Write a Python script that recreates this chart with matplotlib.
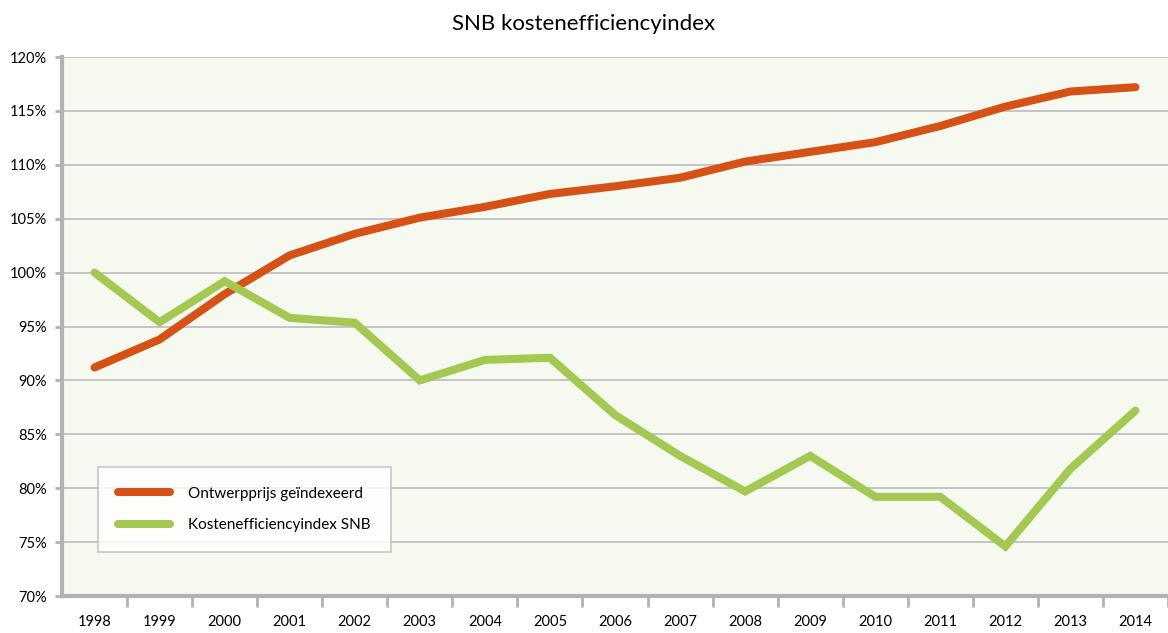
import matplotlib.pyplot as plt
from matplotlib.ticker import FixedLocator

plt.rcParams['font.family'] = ['Lato', 'DejaVu Sans']

years = [str(y) for y in range(1998, 2015)]
ontwerpprijs = [91.2, 93.8, 98.0, 101.6, 103.6, 105.1, 106.1, 107.3, 108.0,
                108.8, 110.3, 111.2, 112.1, 113.6, 115.4, 116.8, 117.2]
kostenindex = [100.0, 95.4, 99.2, 95.8, 95.35, 90.0, 91.9, 92.1, 86.8,
               83.0, 79.7, 83.0, 79.2, 79.2, 74.6, 81.8, 87.2]
y_ticks = list(range(70, 121, 5))

orange = '#D65116'
green = '#A3C952'
grey = '#B3B3B3'

fig = plt.figure(figsize=(11.68, 6.33), dpi=100)
ax = fig.add_axes([62/1168, 37/633, 1106/1168, 539/633])
ax.set_facecolor('#F6F9F0')

x = list(range(len(years)))
ax.plot(x, ontwerpprijs, color=orange, lw=5.8, solid_capstyle='round',
        solid_joinstyle='miter', label='Ontwerpprijs geïndexeerd', zorder=3)
ax.plot(x, kostenindex, color=green, lw=5.8, solid_capstyle='round',
        solid_joinstyle='miter', label='Kostenefficiencyindex SNB', zorder=3)

ax.set_xlim(-0.5, len(years) - 0.5)
ax.set_ylim(70, 120)
ax.set_yticks(y_ticks)
ax.set_yticklabels([f'{t}%' for t in y_ticks])
ax.yaxis.grid(True, color='#C4C4C4', lw=1.4)
ax.set_axisbelow(True)

ax.set_xticks(x)
ax.set_xticklabels(years)
ax.xaxis.set_minor_locator(FixedLocator([i + 0.5 for i in x]))
ax.tick_params(axis='x', which='major', length=0, pad=14, labelsize=10.5)
ax.tick_params(axis='x', which='minor', length=8, width=2, color=grey, direction='out')
ax.tick_params(axis='y', length=5, width=2, color=grey, pad=6, labelsize=10.5)

for side in ['top', 'right']:
    ax.spines[side].set_visible(False)
for side in ['left', 'bottom']:
    ax.spines[side].set_color(grey)
    ax.spines[side].set_linewidth(3)

fig.text(0.5, 0.962, 'SNB kostenefficiencyindex', ha='center', va='center', fontsize=16)

leg = ax.legend(loc='lower left', bbox_to_anchor=(36/1106, 44/539), frameon=True,
                fancybox=False, fontsize=11, handlelength=3.4, handletextpad=1.2,
                borderpad=1.3, labelspacing=1.15, borderaxespad=0)
leg.get_frame().set_edgecolor('#BBBBBB')
leg.get_frame().set_facecolor('white')
leg.get_frame().set_linewidth(1.2)

fig.savefig('out.png', dpi=100)
